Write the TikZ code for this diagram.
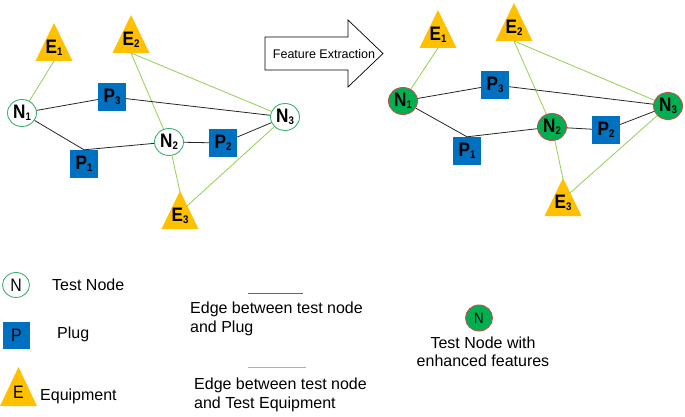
\documentclass[tikz,border=0pt]{standalone}
\usepackage{fontspec}
\setmainfont{Liberation Sans}
\newfontfamily\lblfont[FakeStretch=0.88]{Liberation Sans}
\usetikzlibrary{shapes.geometric}
\definecolor{triy}{HTML}{FFC000}
\definecolor{plugb}{HTML}{0070C0}
\definecolor{nodeg}{HTML}{00B050}
\definecolor{ringg}{HTML}{3CB371}
\definecolor{edgeg}{HTML}{92D050}
\definecolor{ringr}{HTML}{C0504D}
\newcommand{\sbx}[1]{\raisebox{-1.5pt}{\fontsize{11}{11}\selectfont #1}}
% name, x, apex y, label
\newcommand{\eqtri}[4]{%
  \fill[triy] (#2-18.5,#3+38) -- (#2,#3) -- (#2+18.5,#3+38) -- cycle;
  \node[elab] (#1) at (#2,#3+25) {#4};
  \coordinate (#1b) at (#2,#3+38);
  \coordinate (#1a) at (#2,#3+1);
  \coordinate (#1r) at (#2+7,#3+15);
}
\begin{document}
\begin{tikzpicture}[x=1pt,y=-1pt,
  lbl/.style={font=\lblfont\fontsize{19.5}{19.5}\selectfont\bfseries},
  tnode/.style={ellipse, draw=ringg, line width=0.9pt, fill=white, minimum width=29pt, minimum height=27pt, inner sep=0pt, lbl},
  enode/.style={tnode, draw=ringr, fill=nodeg},
  plug/.style={rectangle, fill=plugb, minimum size=28pt, inner sep=0pt, lbl},
  elab/.style={inner sep=0pt, lbl},
  bedge/.style={draw=black!85, line width=0.8pt},
  gedge/.style={draw=edgeg, line width=0.8pt},
  legsym/.style={font=\lblfont\fontsize{18}{18}\selectfont},
  legtext/.style={inner sep=0pt, font=\fontsize{16}{18.5}\selectfont},
]
\useasboundingbox (0,0) rectangle (685,417);

% ---------- left graph ----------
\eqtri{LE1}{54}{23}{E\sbx{1}}
\eqtri{LE2}{131}{15}{E\sbx{2}}
\eqtri{LE3}{180}{191}{E\sbx{3}}
\node[tnode] (LN1) at (22,113) {N\sbx{1}};
\node[tnode] (LN2) at (169,142) {N\sbx{2}};
\node[tnode] (LN3) at (285,117) {N\sbx{3}};
\node[plug] (LP3) at (112,97) {P\sbx{3}};
\node[plug] (LP1) at (84,164) {P\sbx{1}};
\node[plug] (LP2) at (223,143) {P\sbx{2}};

\draw[gedge] (LE1b) -- (LN1);
\draw[gedge] (LE2b) -- (LN2);
\draw[gedge] (LE2b) -- (LN3);
\draw[gedge] (LN2) -- (LE3a);
\draw[gedge] (LN3) -- (LE3r);
\draw[bedge] (LN1) -- (LP3);
\draw[bedge] (LP3) -- (LN3);
\draw[bedge] (LN1) -- (LP1.north);
\draw[bedge] (LP1.north) -- (LN2);
\draw[bedge] (LN2) -- (LP2);
\draw[bedge] (LP2) -- (LN3);

% ---------- arrow ----------
\draw[line width=0.7pt, fill=white] (265,37) -- (348,37) -- (348,20) -- (383,53.5) -- (348,87) -- (348,70) -- (265,70) -- cycle;
\node[inner sep=0pt, font=\fontsize{12.5}{14}\selectfont] (FE) at (324,54) {Feature Extraction};

% ---------- right graph ----------
\eqtri{RE1}{438}{10}{E\sbx{1}}
\eqtri{RE2}{514}{3}{E\sbx{2}}
\eqtri{RE3}{563}{178}{E\sbx{3}}
\node[enode] (RN1) at (403,101) {N\sbx{1}};
\node[enode] (RN2) at (552,127) {N\sbx{2}};
\node[enode] (RN3) at (668,106) {N\sbx{3}};
\node[plug] (RP3) at (495,85) {P\sbx{3}};
\node[plug] (RP1) at (467,151) {P\sbx{1}};
\node[plug] (RP2) at (606,130) {P\sbx{2}};

\draw[gedge] (RE1b) -- (RN1);
\draw[gedge] (RE2b) -- (RN2);
\draw[gedge] (RE2b) -- (RN3);
\draw[gedge] (RN2) -- (RE3a);
\draw[gedge] (RN3) -- (RE3r);
\draw[bedge] (RN1) -- (RP3);
\draw[bedge] (RP3) -- (RN3);
\draw[bedge] (RN1) -- (RP1.north);
\draw[bedge] (RP1.north) -- (RN2);
\draw[bedge] (RN2) -- (RP2);
\draw[bedge] (RP2) -- (RN3);

% ---------- legend ----------
\node[tnode, minimum width=27pt, minimum height=25pt, legsym] (GN) at (16,285) {N};
\node[legtext, anchor=west] (GNt) at (52,285) {Test Node};
\node[plug, minimum size=27pt, legsym] (GP) at (16.5,335.5) {P};
\node[legtext, anchor=west] (GPt) at (57,334) {Plug};
\fill[triy] (0,406) -- (18.5,367) -- (37,406) -- cycle;
\node[inner sep=0pt, legsym] (GE) at (18.5,392) {E};
\node[legtext, anchor=west] (GEt) at (40,396) {Equipment};

\coordinate (BL1) at (248,293);
\coordinate (BL2) at (303,293);
\draw[bedge, draw=black!60] (BL1) -- (BL2);
\node[legtext, anchor=north west, align=left] (BLt) at (190,302) {Edge between test node\\and Plug};
\coordinate (GL1) at (248,367);
\coordinate (GL2) at (306,367);
\draw[gedge] (GL1) -- (GL2);
\node[legtext, anchor=north west, align=left] (GLt) at (194,378) {Edge between test node\\and Test Equipment};

\node[enode, minimum width=27pt, minimum height=26pt, legsym, font=\lblfont\fontsize{15}{15}\selectfont\mdseries] (GRN) at (479,318) {N};
\node[legtext, align=center] (GRNt) at (483,352) {Test Node with\\enhanced features};
\end{tikzpicture}
\end{document}
